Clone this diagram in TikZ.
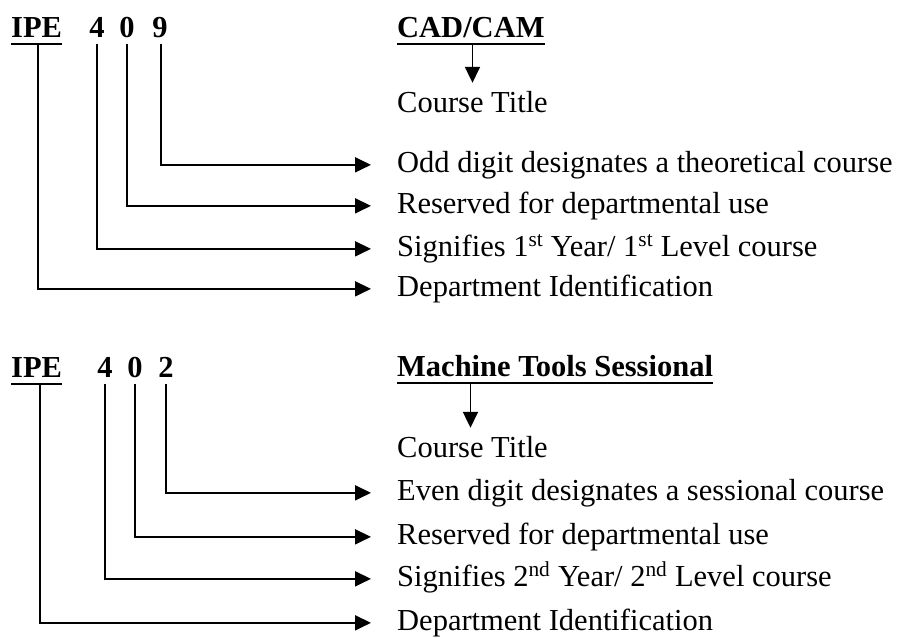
\documentclass[tikz,border=0pt]{standalone}
\usepackage{fontspec}
\setmainfont{Liberation Serif}
\usetikzlibrary{arrows.meta}
\begin{document}
\begin{tikzpicture}[x=1pt,y=-1pt,
  txt/.style={anchor=base west, inner sep=0pt, text height=21pt, text depth=6.7pt, font=\fontsize{30.5}{36}\selectfont},
  code/.style={txt, anchor=base, font=\fontsize{30.5}{36}\selectfont\bfseries},
  lead/.style={line width=1.9pt, -{Triangle[length=16pt,width=15pt]}},
  hlead/.style={lead, shorten >=26pt},
  uline/.style={line width=2pt}]
\useasboundingbox (0,0) rectangle (918,637);
% IPE 409
\node[code, anchor=base west] (ipeA) at (11,37) {IPE};
\node[code] (fourA) at (97,37) {4};
\node[code] (zeroA) at (127,37) {0};
\node[code] (nineA) at (160,37) {9};
\node[code, anchor=base west] (titleA) at (397,37) {CAD/CAM};
\draw[uline] (ipeA.south west)--(ipeA.south east);
\draw[uline] (titleA.south west)--(titleA.south east);
\node[txt] (courseA) at (397,112) {Course Title};
\node[txt] (oddA) at (397,172) {Odd digit designates a theoretical course};
\node[txt] (resA) at (397,213) {Reserved for departmental use};
\node[txt] (sigA) at (397,256) {Signifies 1\textsuperscript{st} Year/ 1\textsuperscript{st} Level course};
\node[txt] (depA) at (397,296) {Department Identification};
\draw[lead, shorten >=8pt] (courseA.north |- titleA.south)--(courseA.north);
\draw[hlead] ([xshift=1pt]nineA.south)|-(oddA.west);
\draw[hlead] (zeroA.south)|-(resA.west);
\draw[hlead] (fourA.south)|-(sigA.west);
\draw[hlead] ([xshift=1.5pt]ipeA.south)|-(depA.west);
% IPE 402
\node[code, anchor=base west] (ipeB) at (11,377) {IPE};
\node[code] (fourB) at (105,377) {4};
\node[code] (zeroB) at (135,377) {0};
\node[code] (twoB) at (166,377) {2};
\node[code, anchor=base west] (titleB) at (397,376) {Machine Tools Sessional};
\draw[uline] (ipeB.south west)--(ipeB.south east);
\draw[uline] (titleB.south west)--(titleB.south east);
\node[txt] (courseB) at (397,457) {Course Title};
\node[txt] (evenB) at (397,500) {Even digit designates a sessional course};
\node[txt] (resB) at (397,544) {Reserved for departmental use};
\node[txt] (sigB) at (397,586) {Signifies 2\textsuperscript{nd} Year/ 2\textsuperscript{nd} Level course};
\node[txt] (depB) at (397,630) {Department Identification};
\draw[lead, shorten >=8pt] ([xshift=-2pt]courseB.north |- titleB.south)--([xshift=-2pt]courseB.north);
\draw[hlead] (twoB.south)|-(evenB.west);
\draw[hlead] (zeroB.south)|-(resB.west);
\draw[hlead] (fourB.south)|-(sigB.west);
\draw[hlead] ([xshift=3pt]ipeB.south)|-(depB.west);
\end{tikzpicture}
\end{document}
